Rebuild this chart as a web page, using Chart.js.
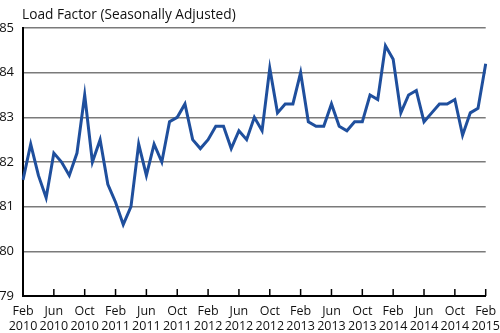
<!DOCTYPE html>
<html>
<head>
<meta charset="utf-8">
<script src="https://cdn.jsdelivr.net/npm/chart.js@4.4.1/dist/chart.umd.min.js"></script>
<style>
  html, body { margin: 0; padding: 0; background: #fff; }
  #wrap { width: 500px; height: 333px; position: relative; }
  #title {
    position: absolute; left: 22px; top: 5px;
    font: 13.7px 'Open Sans', 'Noto Sans', sans-serif; color: #111;
    line-height: 18px; white-space: nowrap;
  }
</style>
</head>
<body>
<div id="wrap">
  <canvas id="load-graph" width="500" height="333"></canvas>
  <div id="title">Load Factor (Seasonally Adjusted)</div>
</div>
<script>
const monthNames = ["Feb", "Mar", "Apr", "May", "Jun", "Jul", "Aug", "Sep", "Oct", "Nov", "Dec", "Jan"];
const startYear = 2010;

// monthly load factor, Feb 2010 .. Feb 2015
const loadFactor = [
  81.6, 82.4, 81.7, 81.2, 82.2, 82.0, 81.7, 82.2, 83.5, 82.0, 82.5, 81.5,
  81.1, 80.6, 81.0, 82.4, 81.7, 82.4, 82.0, 82.9, 83.0, 83.3, 82.5, 82.3,
  82.5, 82.8, 82.8, 82.3, 82.7, 82.5, 83.0, 82.7, 84.1, 83.1, 83.3, 83.3,
  84.0, 82.9, 82.8, 82.8, 83.3, 82.8, 82.7, 82.9, 82.9, 83.5, 83.4, 84.6,
  84.3, 83.1, 83.5, 83.6, 82.9, 83.1, 83.3, 83.3, 83.4, 82.6, 83.1, 83.2,
  84.2
];

const yTicks = [79, 80, 81, 82, 83, 84, 85];

const labels = loadFactor.map((v, i) => {
  const year = startYear + Math.floor((i + 1) / 12);
  return [monthNames[i % 12], String(year)];
});

const fontFamily = "'Open Sans', 'Noto Sans', sans-serif";

// small tick marks pointing up from the x axis every 4 months
const innerTicks = {
  id: "innerTicks",
  afterDatasetsDraw(chart) {
    const ctx = chart.ctx;
    const x = chart.scales.x;
    const bottom = chart.chartArea.bottom;
    ctx.save();
    ctx.strokeStyle = "#000";
    ctx.lineWidth = 1.5;
    for (let i = 4; i < labels.length; i += 4) {
      const px = x.getPixelForValue(i);
      ctx.beginPath();
      ctx.moveTo(px, bottom);
      ctx.lineTo(px, bottom - 7);
      ctx.stroke();
    }
    ctx.restore();
  },
};

const graph = document.querySelector("#load-graph");

new Chart(graph, {
  type: "line",
  data: {
    labels: labels,
    datasets: [
      {
        data: loadFactor,
        borderColor: "#1f4f9d",
        borderWidth: 3,
        pointRadius: 0,
        tension: 0,
        fill: false,
      },
    ],
  },
  options: {
    responsive: false,
    animation: false,
    layout: { padding: { top: 28, right: 13, left: 0, bottom: 0 } },
    plugins: {
      legend: { display: false },
      tooltip: { enabled: false },
    },
    scales: {
      x: {
        type: "category",
        offset: false,
        grid: { display: false },
        border: { display: true, color: "#000", width: 2 },
        ticks: {
          autoSkip: false,
          maxRotation: 0,
          minRotation: 0,
          padding: 0,
          color: "#111",
          font: { family: fontFamily, size: 12.5, lineHeight: 1.2 },
          callback: (val, i) => (i % 4 === 0 ? labels[i] : null),
        },
        afterFit: (scale) => { scale.height = 37; },
      },
      y: {
        min: yTicks[0],
        max: yTicks[yTicks.length - 1],
        afterBuildTicks: (scale) => { scale.ticks = yTicks.map((v) => ({ value: v })); },
        grid: { color: "#7a7a7a", lineWidth: 1.5, drawTicks: false },
        border: { display: true, color: "#000", width: 2 },
        ticks: {
          padding: 9,
          color: "#111",
          font: { family: fontFamily, size: 13 },
        },
        afterFit: (scale) => { scale.width = 23; },
      },
    },
  },
  plugins: [innerTicks],
});
</script>
</body>
</html>
